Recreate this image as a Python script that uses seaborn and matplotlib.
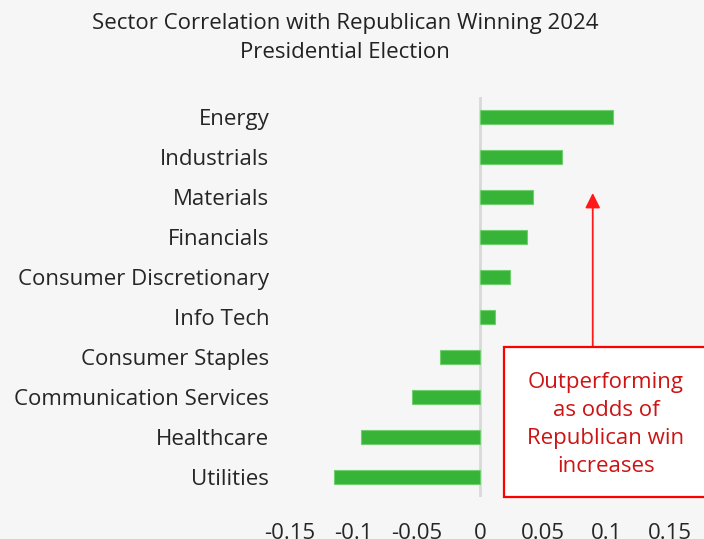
import matplotlib.pyplot as plt
import seaborn as sns
import pandas as pd

sectors = ['Energy', 'Industrials', 'Materials', 'Financials', 'Consumer Discretionary',
           'Info Tech', 'Consumer Staples', 'Communication Services', 'Healthcare', 'Utilities']
correlation = [0.105, 0.065, 0.042, 0.037, 0.024, 0.012, -0.0315, -0.054, -0.094, -0.115]
x_ticks = [-0.15, -0.1, -0.05, 0, 0.05, 0.1, 0.15]
x_tick_labels = ['-0.15', '-0.1', '-0.05', '0', '0.05', '0.1', '0.15']

df = pd.DataFrame({'sector': sectors, 'corr': correlation})

sns.set_style('white')
plt.rcParams['font.family'] = ['Open Sans', 'DejaVu Sans']
bg = '#f6f6f6'

fig = plt.figure(figsize=(7.04, 5.39), dpi=100, facecolor=bg)
ax = fig.add_axes([290 / 704, 42 / 539, 380 / 704, 400 / 539], facecolor=bg)

sns.barplot(data=df, x='corr', y='sector', color='#37b337', width=0.35,
            edgecolor='#6fcf6f', linewidth=0.8, saturation=1, ax=ax)

ax.axvline(0, color='#d9d9d9', lw=2, zorder=0)
ax.set_xlim(-0.15, 0.15)
ax.set_xticks(x_ticks)
ax.set_xticklabels(x_tick_labels)
ax.set_xlabel('')
ax.set_ylabel('')
for s in ax.spines.values():
    s.set_visible(False)
ax.tick_params(axis='y', length=0, pad=15, labelsize=16, labelcolor='#262626')
ax.tick_params(axis='x', length=0, pad=19, labelsize=16, labelcolor='#262626')

fig.text(345 / 704, 1 - 23 / 539, 'Sector Correlation with Republican Winning 2024',
         ha='center', va='center', fontsize=16, color='#222222')
fig.text(345 / 704, 1 - 52 / 539, 'Presidential Election',
         ha='center', va='center', fontsize=16, color='#222222')

# annotation box with arrow
box = plt.Rectangle((504 / 704, 42 / 539), 210 / 704, 150 / 539, transform=fig.transFigure,
                    facecolor='white', edgecolor='#ff0000', lw=1.6, zorder=5)
fig.patches.append(box)
ax.annotate('', xy=(0.089, 1.9), xytext=(0.089, 5.75),
            arrowprops=dict(arrowstyle='-|>,head_length=0.9,head_width=0.45',
                            color='#ff1a1a', lw=1.3, shrinkA=0, shrinkB=0),
            annotation_clip=False, zorder=6)
fig.text(606 / 704, 1 - 424.5 / 539,
         'Outperforming\nas odds of\nRepublican win\nincreases',
         ha='center', va='center', fontsize=16, color='#cc1414', linespacing=1.42, zorder=7)

fig.savefig('out.png', dpi=100, facecolor=bg)
